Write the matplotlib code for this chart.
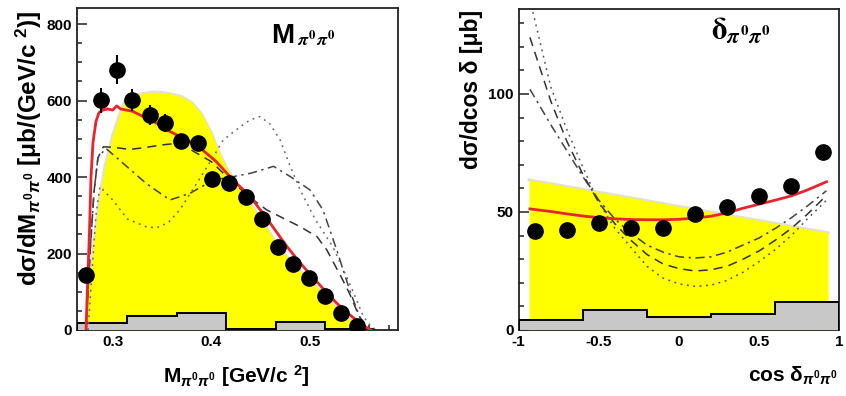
import matplotlib
matplotlib.use("Agg")
import matplotlib.pyplot as plt
from matplotlib.ticker import MultipleLocator, FixedLocator, FuncFormatter

plt.rcParams['font.family'] = ['Liberation Sans', 'DejaVu Sans']
plt.rcParams['font.weight'] = 'bold'
plt.rcParams['mathtext.fontset'] = 'custom'
plt.rcParams['mathtext.rm'] = 'Liberation Sans:bold'
plt.rcParams['mathtext.it'] = 'Liberation Sans:bold:italic'
plt.rcParams['mathtext.bf'] = 'Liberation Sans:bold'

# ---------------- Left panel data: M_pi0pi0 ----------------
m_pts_x = [0.273, 0.288, 0.304, 0.320, 0.338, 0.353, 0.369, 0.386, 0.401,
           0.418, 0.435, 0.451, 0.467, 0.483, 0.499, 0.515, 0.531, 0.548]
m_pts_y = [144, 601, 681, 601, 562, 542, 494, 490, 394,
           385, 349, 290, 216, 173, 135, 90, 45, 10]
m_pts_err = [10, 33, 38, 28, 26, 24, 15, 15, 12,
             12, 10, 10, 10, 8, 8, 6, 5, 4]

m_red_x = [0.273, 0.2745, 0.2764, 0.278, 0.280, 0.283, 0.286, 0.290, 0.295,
           0.300, 0.304, 0.308, 0.314, 0.320, 0.331, 0.342, 0.355, 0.365,
           0.375, 0.385, 0.395, 0.405, 0.422, 0.439, 0.458, 0.476, 0.490,
           0.503, 0.515, 0.527, 0.540, 0.551, 0.558, 0.562]
m_red_y = [0, 120, 253, 400, 490, 545, 568, 575, 578,
           575, 586, 578, 575, 572, 558, 545, 523, 510,
           497, 484, 462, 440, 392, 350, 285, 220, 175,
           137, 103, 70, 40, 17, 5, 0]

m_band_x = [0.272, 0.276, 0.282, 0.287, 0.292, 0.300, 0.3075, 0.3125, 0.320,
            0.330, 0.340, 0.350, 0.360, 0.370, 0.380, 0.390, 0.400, 0.406,
            0.415, 0.425, 0.435, 0.450, 0.466, 0.483, 0.500, 0.515, 0.531,
            0.548, 0.556]
m_band_y = [0, 120, 253, 350, 427, 510, 567, 601, 612,
            618, 622, 621, 617, 610, 595, 565, 515, 475,
            425, 385, 345, 292, 225, 172, 130, 90, 47,
            12, 0]

m_dash_x = [0.273, 0.277, 0.281, 0.285, 0.2905, 0.300, 0.3175, 0.335, 0.350,
            0.365, 0.380, 0.400, 0.420, 0.440, 0.456, 0.473, 0.490, 0.507,
            0.517, 0.525, 0.533, 0.540, 0.547, 0.553, 0.558]
m_dash_y = [0, 200, 360, 450, 479, 478, 472, 478, 484,
            488, 470, 440, 390, 345, 314, 292, 270, 244,
            209, 170, 131, 95, 52, 20, 0]

m_dashdot_x = [0.273, 0.277, 0.281, 0.285, 0.293, 0.310, 0.334, 0.358, 0.378,
               0.402, 0.420, 0.440, 0.463, 0.480, 0.500, 0.513, 0.527, 0.540,
               0.550, 0.558, 0.565]
m_dashdot_y = [0, 200, 360, 450, 475, 437, 383, 340, 357,
               392, 400, 410, 428, 401, 366, 314, 209, 105,
               35, 8, 0]

m_dot_x = [0.275, 0.279, 0.283, 0.287, 0.300, 0.315, 0.334, 0.344, 0.356,
           0.368, 0.385, 0.402, 0.412, 0.429, 0.439, 0.449, 0.459, 0.4696,
           0.480, 0.490, 0.505, 0.523, 0.540, 0.554, 0.562, 0.568]
m_dot_y = [0, 150, 300, 375, 340, 290, 270, 267, 280,
           314, 383, 453, 497, 531, 549, 558, 540, 497,
           427, 366, 290, 218, 122, 35, 8, 0]

m_sys_edges = [0.264, 0.314, 0.365, 0.415, 0.465, 0.515, 0.565]
m_sys_vals = [19, 37, 44, 2, 20, 2]

# ---------------- Right panel data: cos delta ----------------
c_pts_x = [-0.9, -0.7, -0.5, -0.3, -0.1, 0.1, 0.3, 0.5, 0.7, 0.9]
c_pts_y = [42.1, 42.4, 45.5, 43.0, 43.0, 49.0, 51.9, 56.6, 60.8, 75.2]

c_red_x = [-0.93, -0.8, -0.7, -0.6, -0.5, -0.4, -0.3, -0.2, -0.1, 0.0,
           0.1, 0.2, 0.3, 0.4, 0.5, 0.6, 0.7, 0.8, 0.92]
c_red_y = [51.3, 50.2, 49.2, 48.3, 47.6, 47.1, 46.8, 46.7, 46.7, 46.9,
           47.4, 48.2, 49.6, 51.6, 53.3, 55.0, 56.8, 59.3, 62.8]

c_band_x = [-0.935, 0.93]
c_band_y = [63.6, 41.2]

c_mod_x = [-0.93, -0.8, -0.7, -0.6, -0.5, -0.4, -0.3, -0.2, -0.1, 0.0,
           0.1, 0.2, 0.3, 0.4, 0.5, 0.6, 0.7, 0.8, 0.92]
c_dashdot_y = [102, 87, 76, 65, 55, 47, 41, 36, 33, 31,
               30.5, 31, 33, 36, 39, 43, 47.5, 52.5, 59]
c_dash_y = [124, 97, 80, 66, 54, 45, 38, 32, 28, 26,
            25, 25.5, 27, 30, 33.5, 38, 43, 49, 57]
c_dot_y = [140, 103, 85, 69, 54, 43, 35, 27, 22, 19.5,
           18.5, 19, 21, 24.5, 29, 34, 40, 47, 55]

c_sys_edges = [-1.0, -0.6, -0.2, 0.2, 0.6, 1.0]
c_sys_vals = [4.2, 8.5, 5.4, 6.7, 12.0]

# ---------------- Style ----------------
YELLOW = '#ffff00'
FRINGE = '#e2e2cc'
RED = '#e8252f'
GRAY = '#c8c8c8'

fig = plt.figure(figsize=(8.46, 3.96), dpi=100)
axL = fig.add_axes([0.0910, 0.1667, 0.3794, 0.8131])
axR = fig.add_axes([0.6131, 0.1667, 0.3790, 0.8106])


def style_axes(ax):
    for s in ax.spines.values():
        s.set_linewidth(1.3)
        s.set_color('#222222')
    ax.tick_params(which='both', direction='in', top=False, right=False,
                   labelsize=11, width=1.1, color='#222222')
    ax.tick_params(which='major', length=7)
    ax.tick_params(which='minor', length=3.5)
    for lab in ax.get_xticklabels() + ax.get_yticklabels():
        lab.set_fontweight('bold')


# ---- Left ----
axL.plot(m_band_x, m_band_y, color=FRINGE, lw=2.2, zorder=1, solid_joinstyle='round')
axL.fill_between(m_band_x, m_band_y, 0, color=YELLOW, lw=0, zorder=2)
axL.stairs(m_sys_vals, m_sys_edges, fill=True, color=GRAY, zorder=3)
axL.stairs(m_sys_vals, m_sys_edges, color='black', lw=1.4, zorder=3.1)
axL.plot(m_dash_x, m_dash_y, color='#333333', lw=1.1, dashes=(6, 4), zorder=4)
axL.plot(m_dashdot_x, m_dashdot_y, color='#444444', lw=1.1, dashes=(6, 3, 1.5, 3), zorder=4)
axL.plot(m_dot_x, m_dot_y, color='#666666', lw=1.1, dashes=(1.2, 3), zorder=4)
axL.plot(m_red_x, m_red_y, color=RED, lw=2.0, zorder=5)
axL.errorbar(m_pts_x, m_pts_y, yerr=m_pts_err, fmt='o', color='black', ms=11,
             elinewidth=1.5, capsize=0, zorder=6)
axL.set_xlim(0.2638, 0.589)
axL.set_ylim(0, 842)
axL.xaxis.set_major_locator(FixedLocator([0.3, 0.4, 0.5]))
axL.xaxis.set_minor_locator(MultipleLocator(0.02))
axL.yaxis.set_major_locator(MultipleLocator(200))
axL.yaxis.set_minor_locator(MultipleLocator(50))
axL.xaxis.set_major_formatter(FuncFormatter(lambda v, p: f"{v:.1f}"))
style_axes(axL)
axL.text(0.605, 0.891, r"M", transform=axL.transAxes, fontsize=20,
         fontweight='bold', va='baseline', ha='left')
axL.text(0.685, 0.891, r"$_{\pi^0\pi^0}$", transform=axL.transAxes, fontsize=19,
         math_fontfamily='stix', va='baseline', ha='left')

# ---- Right ----
axR.plot(c_band_x, c_band_y, color=FRINGE, lw=2.2, zorder=1)
axR.fill_between(c_band_x, c_band_y, 0, color=YELLOW, lw=0, zorder=2)
axR.stairs(c_sys_vals, c_sys_edges, fill=True, color=GRAY, zorder=3)
axR.stairs(c_sys_vals, c_sys_edges, color='black', lw=1.4, zorder=3.1)
axR.plot(c_mod_x, c_dashdot_y, color='#444444', lw=1.1, dashes=(6, 3, 1.5, 3), zorder=4)
axR.plot(c_mod_x, c_dash_y, color='#333333', lw=1.1, dashes=(6, 4), zorder=4)
axR.plot(c_mod_x, c_dot_y, color='#555555', lw=1.1, dashes=(1.2, 3), zorder=4)
axR.plot(c_red_x, c_red_y, color=RED, lw=2.0, zorder=5)
axR.plot(c_pts_x, c_pts_y, 'o', color='black', ms=11, zorder=6)
axR.set_xlim(-1, 1)
axR.set_ylim(0, 136)
axR.xaxis.set_major_locator(MultipleLocator(0.5))
axR.xaxis.set_minor_locator(MultipleLocator(0.1))
axR.yaxis.set_major_locator(MultipleLocator(50))
axR.yaxis.set_minor_locator(MultipleLocator(10))
axR.xaxis.set_major_formatter(FuncFormatter(lambda v, p: f"{v:g}"))
style_axes(axR)
axR.text(0.60, 0.905, r"$\mathrm{\delta}_{\pi^0\pi^0}$", transform=axR.transAxes,
         fontsize=22, math_fontfamily='stix', va='baseline', ha='left')

# ---- Axis titles ----
fig.text(0.034, 0.975, r"dσ/dM$_{\pi^0\pi^0}$ [μb/(GeV/c $^2$)]",
         rotation=90, ha='center', va='top', fontsize=17.5, fontweight='bold')
fig.text(0.279, 0.033, r"M$_{\pi^0\pi^0}$ [GeV/c $^2$]",
         ha='center', va='baseline', fontsize=15, fontweight='bold')
fig.text(0.557, 0.975, "dσ/dcos δ [μb]",
         rotation=90, ha='center', va='top', fontsize=16.5, fontweight='bold')
fig.text(0.9905, 0.035, r"cos δ$_{\pi^0\pi^0}$",
         ha='right', va='baseline', fontsize=15, fontweight='bold')

fig.savefig("out.png", dpi=100)
